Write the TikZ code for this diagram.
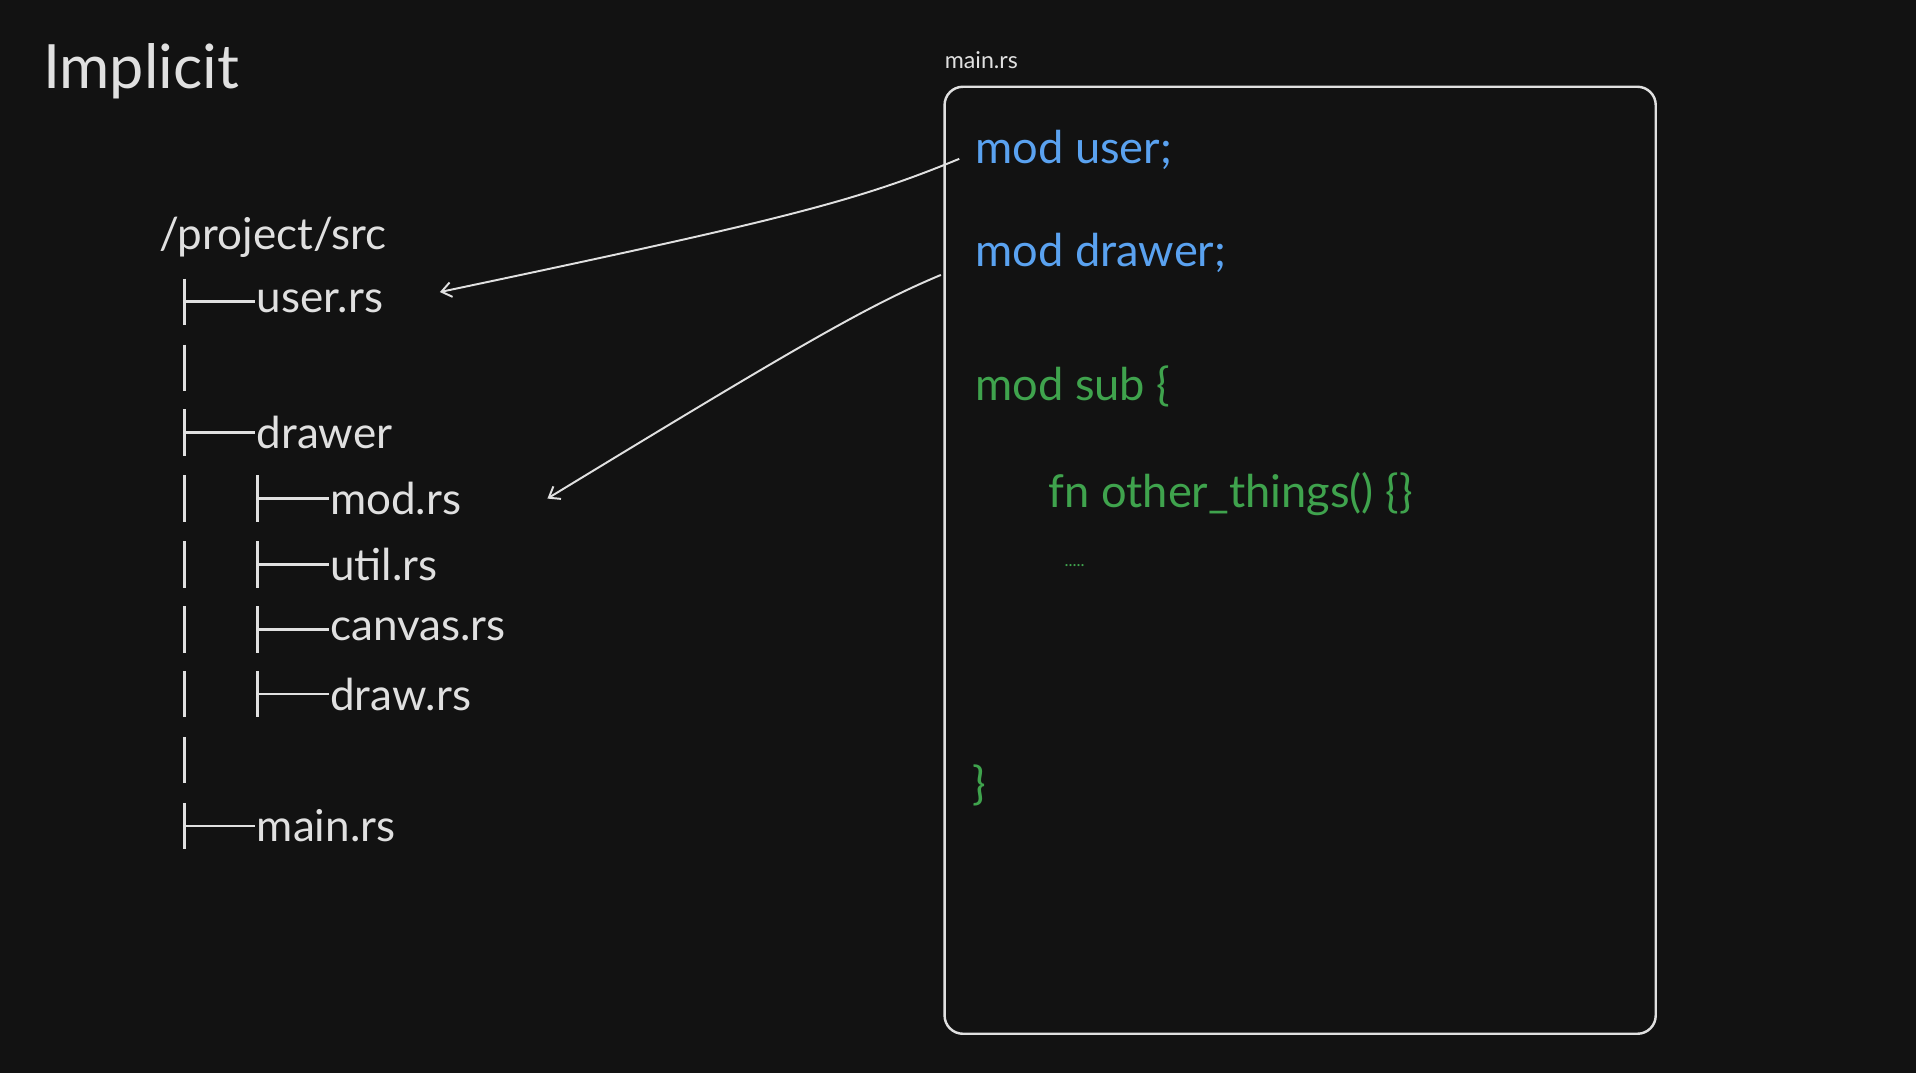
\documentclass[tikz,border=0pt]{standalone}
\usepackage{fontspec}
\setmainfont{Lato}
\definecolor{bg}{HTML}{121212}
\definecolor{fg}{HTML}{E0E0E0}
\definecolor{bl}{HTML}{5AA2F0}
\definecolor{gr}{HTML}{3FA34D}
\begin{document}
\begin{tikzpicture}[x=1pt,y=-1pt,
  tree/.style={text=fg,font=\fontsize{36}{40}\selectfont,anchor=west,inner sep=0pt},
  code/.style={font=\fontsize{37}{40}\selectfont,anchor=west,inner sep=0pt},
  ln/.style={fg,line width=2.2pt},
  conn/.style={fg,line width=1.6pt,->,>={Straight Barb[length=8pt,width=12pt]}}]
\usetikzlibrary{arrows.meta}
\fill[bg] (0,0) rectangle (1568,878);
\useasboundingbox (0,0) rectangle (1568,878);
\node[tree,font=\fontsize{50}{56}\selectfont] (title) at (35,58) {Implicit};
\node[tree] (root) at (130,194) {/project/src};
\node[tree] (user) at (210,247) {user.rs};
\node[tree] (drawer) at (210,354) {drawer};
\node[tree] (mod) at (270,408) {mod.rs};
\node[tree] (util) at (270,462) {util.rs};
\node[tree] (canvas) at (270,515) {canvas.rs};
\node[tree] (draw) at (270,568) {draw.rs};
\node[tree] (mainrs) at (210,676) {main.rs};
% tree lines
\foreach \y in {247,354,676} {\draw[ln] (151,\y-19) -- (151,\y+19); \draw[ln] (151,\y) -- (209,\y);}
\foreach \y in {301,408,462,515,568,622} {\draw[ln] (151,\y-19) -- (151,\y+19);}
\foreach \y in {408,462,515,568} {\draw[ln] (211,\y-19) -- (211,\y+19); \draw[ln] (211,\y) -- (269,\y);}
% box
\node[text=fg,font=\fontsize{19}{22}\selectfont,anchor=west,inner sep=0pt] (lbl) at (773,49) {main.rs};
\draw[fg,line width=2pt,rounded corners=15pt] (773,71) rectangle (1355,846);
\node[code,text=bl] (c1) at (798,123) {mod user;};
\node[code,text=bl] (c2) at (798,207) {mod drawer;};
\node[code,text=gr] (c3) at (798,316) {mod sub \{};
\node[code,text=gr] (c4) at (858,404) {fn other\_things() \{\}};
\node[code,text=gr,font=\fontsize{14}{16}\selectfont] (c5) at (871,463) {.....};
\node[code,text=gr] (c6) at (796,643) {\}};
\coordinate (s1) at (785,130);
\coordinate (s2) at (770,225);
\draw[conn] (s1) .. controls (700,165) and (640,180) .. (360,239);
\draw[conn] (s2) .. controls (710,250) and (650,285) .. (448,408);
\end{tikzpicture}
\end{document}
